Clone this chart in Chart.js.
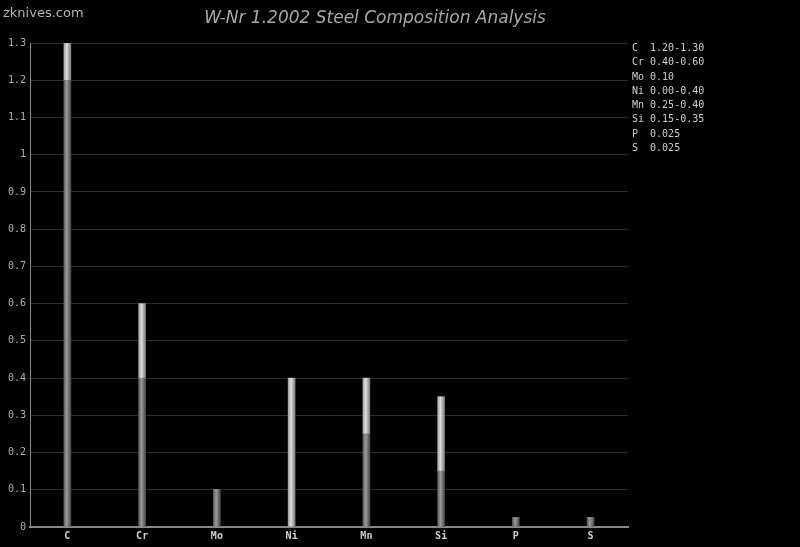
<!DOCTYPE html>
<html>
<head>
<meta charset="utf-8">
<script src="https://cdn.jsdelivr.net/npm/chart.js@4/dist/chart.umd.min.js"></script>
<style>
html,body{margin:0;padding:0;background:#000;width:800px;height:547px;overflow:hidden;}
#wrap{position:relative;width:800px;height:547px;}
canvas{position:absolute;left:0;top:0;}
#logo{position:absolute;left:3px;top:5px;font:13px "DejaVu Sans",sans-serif;color:#b4b4b4;}
#title{position:absolute;left:0;width:750px;top:7px;text-align:center;font:italic 17px "DejaVu Sans",sans-serif;color:#a8a8a8;}
#legend{position:absolute;left:632px;top:41px;font:10px "DejaVu Sans Mono",monospace;color:#cfcfcf;line-height:14.3px;white-space:pre;}
</style>
</head>
<body>
<div id="wrap">
<canvas id="c" width="800" height="547"></canvas>
<div id="logo">zknives.com</div>
<div id="title">W-Nr 1.2002 Steel Composition Analysis</div>
<div id="legend"></div>
</div>
<script>
const elements = ['C','Cr','Mo','Ni','Mn','Si','P','S'];
const minValues = [1.20, 0.40, 0.10, 0.00, 0.25, 0.15, 0.025, 0.025];
const rangeValues = [0.10, 0.20, 0.00, 0.40, 0.15, 0.20, 0.00, 0.00];
const rangeLabels = ['1.20-1.30','0.40-0.60','0.10','0.00-0.40','0.25-0.40','0.15-0.35','0.025','0.025'];
const yMax = 1.3;
const yStep = 0.1;

document.getElementById('legend').textContent =
  elements.map((e,i)=> (e.length<2? e+' ' : e) + ' ' + rangeLabels[i]).join('\n');

function grad(stops){
  return (ctx)=>{
    const chart = ctx.chart;
    if(!chart.chartArea) return stops[1];
    const x = chart.scales.x.getPixelForValue(ctx.dataIndex);
    const g = chart.ctx.createLinearGradient(x-3.5,0,x+3.5,0);
    g.addColorStop(0, stops[0]);
    g.addColorStop(0.4, stops[1]);
    g.addColorStop(1, stops[2]);
    return g;
  };
}

const bgPlugin = {
  id:'bg',
  beforeDraw(chart){
    const c = chart.ctx;
    c.save(); c.fillStyle='#000'; c.fillRect(0,0,chart.width,chart.height); c.restore();
  }
};

new Chart(document.getElementById('c'), {
  type:'bar',
  data:{
    labels: elements,
    datasets:[
      {label:'min', data:minValues, backgroundColor:grad(['#5e5e5e','#9a9a9a','#4a4a4a']), barThickness:7, stack:'s'},
      {label:'range', data:rangeValues, backgroundColor:grad(['#a0a0a0','#dedede','#7a7a7a']), barThickness:7, stack:'s'}
    ]
  },
  plugins:[bgPlugin],
  options:{
    responsive:false,
    animation:false,
    devicePixelRatio:1,
    layout:{padding:{left:0,right:172,top:43,bottom:0}},
    plugins:{legend:{display:false},title:{display:false},tooltip:{enabled:false}},
    scales:{
      x:{
        stacked:true,
        grid:{display:false, drawTicks:false},
        border:{color:'#8a8a8a', width:2},
        ticks:{color:'#d0d0d0', font:{family:'DejaVu Sans Mono', size:10, weight:'bold'}, padding:3},
        afterFit(s){ s.height = 20; }
      },
      y:{
        stacked:true,
        min:0, max:yMax,
        grid:{color:'#2c2c2c', drawTicks:false},
        border:{color:'#8a8a8a', width:1},
        ticks:{stepSize:yStep, color:'#b0b0b0', font:{family:'DejaVu Sans Mono', size:10}, padding:4,
          callback:(v)=> String(parseFloat(v.toFixed(1)))},
        afterFit(s){ s.width = 30; }
      }
    }
  }
});
</script>
</body>
</html>
